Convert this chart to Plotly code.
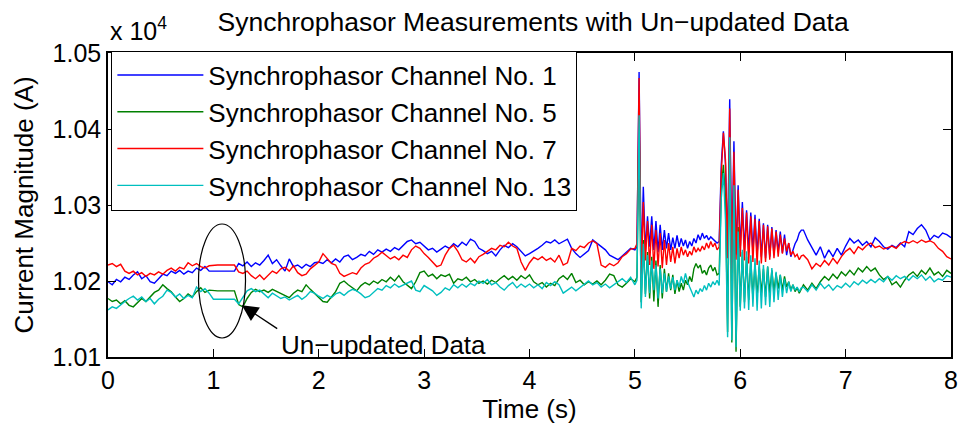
import numpy as np
import plotly.graph_objects as go

# ---------------- data (current magnitude in A) ----------------
# time grid: 0-4.96 s every 0.04 s, 5.00-6.58 s every 0.02 s, 6.60-8.00 s every 0.04 s
time_a = np.arange(125) * 0.04
time_b = 5.0 + np.arange(80) * 0.02
time_c = 6.6 + np.arange(36) * 0.04
time_s = np.round(np.concatenate([time_a, time_b, time_c]), 3)

ch1 = [
    # 0.00 - 0.96
    10199, 10195, 10202, 10199, 10205, 10202, 10208, 10212, 10203, 10207, 10199, 10197, 10203,
    10209, 10207, 10213, 10210, 10214, 10209, 10213, 10211, 10217, 10214, 10219, 10213,
    # 1.00 - 1.96
    10213, 10213, 10213, 10213, 10213, 10213, 10223, 10220, 10225, 10219, 10224, 10221, 10227,
    10234, 10223, 10228, 10220, 10213, 10229, 10219, 10221, 10217, 10222, 10219, 10224,
    # 2.00 - 2.96
    10225, 10223, 10228, 10224, 10229, 10225, 10232, 10234, 10228, 10231, 10235, 10233, 10239,
    10235, 10241, 10238, 10242, 10239, 10244, 10241, 10246, 10252, 10254, 10249, 10251,
    # 3.00 - 3.96
    10246, 10241, 10243, 10238, 10242, 10246, 10243, 10249, 10245, 10251, 10247, 10255, 10252,
    10243, 10240, 10236, 10239, 10233, 10241, 10247, 10244, 10249, 10245, 10239, 10233,
    # 4.00 - 4.96
    10236, 10239, 10243, 10247, 10252, 10250, 10254, 10249, 10252, 10255, 10243, 10236, 10231,
    10235, 10240, 10254, 10250, 10245, 10241, 10234, 10231, 10228, 10233, 10238, 10243,
    # 5.00 - 6.58
    10241, 10245, 10475, 10215, 10324, 10240, 10285, 10245, 10285, 10241,
    10279, 10238, 10274, 10241, 10267, 10243, 10263, 10241, 10257, 10243,
    10260, 10245, 10256, 10246, 10254, 10243, 10252, 10246, 10256, 10250,
    10261, 10254, 10263, 10256, 10260, 10254, 10258, 10255, 10253, 10250,
    10252, 10353, 10397, 10353, 10240, 10439, 10225, 10384, 10235, 10326,
    10243, 10304, 10241, 10293, 10238, 10290, 10239, 10287, 10234, 10282,
    10232, 10276, 10230, 10274, 10232, 10271, 10234, 10267, 10238, 10265,
    10237, 10261, 10234, 10250, 10232, 10241, 10249, 10254, 10263, 10267,
    # 6.60 - 8.00
    10267, 10254, 10243, 10234, 10245, 10230, 10241, 10232, 10243, 10234,
    10246, 10256, 10250, 10254, 10247, 10252, 10245, 10257, 10252, 10245,
    10242, 10247, 10244, 10250, 10245, 10265, 10261, 10269, 10274, 10267,
    10254, 10260, 10257, 10263, 10261, 10257,
]

ch5 = [
    10177, 10173, 10175, 10170, 10174, 10168, 10166, 10172, 10177, 10173, 10179, 10185, 10188,
    10195, 10190, 10186, 10179, 10173, 10177, 10183, 10179, 10186, 10191, 10185, 10188,
    10187, 10187, 10187, 10187, 10187, 10187, 10169, 10166, 10177, 10185, 10189, 10186, 10188,
    10185, 10189, 10186, 10183, 10181, 10178, 10184, 10188, 10186, 10195, 10189, 10184,
    10179, 10173, 10172, 10179, 10186, 10197, 10200, 10195, 10191, 10187, 10194, 10198, 10195,
    10200, 10197, 10202, 10199, 10205, 10200, 10207, 10199, 10195, 10190, 10199, 10211,
    10213, 10206, 10209, 10203, 10208, 10206, 10209, 10197, 10203, 10201, 10205, 10199, 10202,
    10197, 10200, 10196, 10201, 10198, 10203, 10207, 10202, 10206, 10201, 10207, 10203,
    10208, 10199, 10195, 10198, 10192, 10197, 10194, 10203, 10207, 10202, 10210, 10198, 10201,
    10195, 10199, 10196, 10200, 10195, 10201, 10209, 10207, 10195, 10192, 10197, 10203,
    10199, 10205, 10414, 10172, 10254, 10183, 10238, 10177, 10232, 10173,
    10227, 10166, 10221, 10177, 10216, 10186, 10210, 10188, 10208, 10183,
    10201, 10186, 10197, 10188, 10201, 10195, 10206, 10199, 10216, 10223,
    10217, 10221, 10210, 10214, 10208, 10217, 10221, 10213, 10218, 10208,
    10210, 10320, 10353, 10309, 10133, 10386, 10119, 10331, 10107, 10271,
    10166, 10238, 10172, 10232, 10175, 10227, 10177, 10223, 10179, 10219,
    10183, 10216, 10179, 10219, 10184, 10214, 10186, 10210, 10190, 10208,
    10188, 10206, 10192, 10199, 10188, 10195, 10186, 10191, 10184, 10190,
    10195, 10188, 10197, 10190, 10199, 10206, 10201, 10209, 10203, 10212,
    10207, 10214, 10208, 10217, 10212, 10219, 10213, 10217, 10208, 10202,
    10206, 10195, 10199, 10192, 10201, 10208, 10212, 10206, 10214, 10209,
    10217, 10208, 10212, 10206, 10214, 10210,
]

ch7 = [
    10221, 10223, 10219, 10222, 10213, 10210, 10213, 10208, 10211, 10206, 10210, 10208, 10212,
    10209, 10214, 10217, 10213, 10218, 10216, 10224, 10220, 10223, 10219, 10217, 10220,
    10221, 10221, 10221, 10221, 10221, 10221, 10212, 10210, 10213, 10207, 10203, 10208, 10202,
    10207, 10213, 10210, 10216, 10218, 10213, 10220, 10211, 10207, 10209, 10216, 10220,
    10225, 10236, 10230, 10223, 10221, 10210, 10206, 10208, 10211, 10209, 10217, 10222, 10224,
    10230, 10233, 10238, 10234, 10229, 10232, 10228, 10234, 10231, 10241, 10246, 10243,
    10236, 10231, 10225, 10219, 10221, 10234, 10243, 10247, 10239, 10228, 10225, 10230, 10224,
    10232, 10235, 10239, 10243, 10241, 10247, 10245, 10251, 10246, 10243, 10225, 10214,
    10224, 10231, 10228, 10232, 10227, 10230, 10225, 10234, 10221, 10224, 10243, 10240, 10246,
    10244, 10250, 10253, 10249, 10221, 10218, 10223, 10220, 10224, 10232, 10236, 10242,
    10243, 10249, 10467, 10199, 10304, 10227, 10279, 10221, 10274, 10216,
    10267, 10219, 10263, 10217, 10254, 10221, 10250, 10225, 10245, 10223,
    10243, 10230, 10245, 10234, 10241, 10232, 10239, 10234, 10245, 10238,
    10243, 10239, 10246, 10241, 10250, 10243, 10252, 10245, 10250, 10241,
    10245, 10342, 10395, 10359, 10230, 10427, 10215, 10370, 10228, 10320,
    10232, 10296, 10227, 10290, 10223, 10285, 10225, 10282, 10221, 10279,
    10223, 10274, 10225, 10272, 10228, 10269, 10230, 10265, 10232, 10261,
    10236, 10256, 10239, 10250, 10234, 10239, 10232, 10235, 10228, 10233,
    10234, 10228, 10216, 10223, 10219, 10227, 10221, 10230, 10223, 10232,
    10239, 10243, 10236, 10245, 10241, 10247, 10250, 10244, 10246, 10242,
    10244, 10246, 10243, 10249, 10252, 10250, 10253, 10250, 10254, 10251,
    10253, 10250, 10243, 10239, 10232, 10229,
]

ch13 = [
    10162, 10166, 10164, 10169, 10173, 10177, 10180, 10175, 10179, 10173, 10177, 10170, 10176,
    10180, 10188, 10185, 10179, 10183, 10177, 10181, 10178, 10192, 10186, 10190, 10184,
    10176, 10176, 10176, 10176, 10176, 10176, 10170, 10179, 10187, 10190, 10186, 10188, 10183,
    10178, 10184, 10180, 10177, 10179, 10175, 10178, 10181, 10176, 10180, 10186, 10184,
    10180, 10177, 10181, 10178, 10183, 10185, 10181, 10186, 10189, 10187, 10183, 10178, 10180,
    10185, 10190, 10188, 10194, 10191, 10196, 10192, 10195, 10198, 10200, 10188, 10186,
    10194, 10191, 10187, 10181, 10185, 10191, 10188, 10195, 10191, 10196, 10192, 10197, 10194,
    10200, 10197, 10202, 10195, 10198, 10192, 10188, 10194, 10198, 10191, 10196, 10192,
    10196, 10191, 10195, 10190, 10198, 10194, 10199, 10195, 10184, 10188, 10192, 10187, 10191,
    10196, 10200, 10195, 10198, 10192, 10196, 10191, 10195, 10199, 10203, 10198, 10205,
    10195, 10201, 10418, 10164, 10249, 10179, 10234, 10184, 10227, 10188,
    10221, 10177, 10216, 10184, 10210, 10186, 10206, 10190, 10205, 10188,
    10201, 10192, 10206, 10197, 10210, 10199, 10192, 10184, 10179, 10188,
    10183, 10190, 10186, 10194, 10188, 10197, 10192, 10199, 10195, 10201,
    10194, 10309, 10342, 10280, 10126, 10389, 10122, 10326, 10113, 10265,
    10161, 10241, 10164, 10239, 10162, 10234, 10166, 10230, 10161, 10227,
    10164, 10221, 10168, 10219, 10166, 10217, 10172, 10212, 10175, 10208,
    10179, 10203, 10184, 10199, 10186, 10195, 10188, 10192, 10186, 10191,
    10192, 10186, 10195, 10188, 10197, 10190, 10195, 10188, 10194, 10191,
    10197, 10192, 10199, 10195, 10201, 10197, 10202, 10198, 10203, 10199,
    10206, 10201, 10207, 10203, 10206, 10201, 10207, 10203, 10208, 10201,
    10206, 10199, 10203, 10201, 10207, 10205,
]

series_names = ["Synchrophasor Channel No. 1", "Synchrophasor Channel No. 5",
                "Synchrophasor Channel No. 7", "Synchrophasor Channel No. 13"]
series_values = [ch1, ch5, ch7, ch13]
series_colors = ["#0000ff", "#008000", "#ff0000", "#00bfbf"]

y_ticks = [1.01, 1.02, 1.03, 1.04, 1.05]
y_tick_labels = ["1.01", "1.02", "1.03", "1.04", "1.05"]
x_ticks = [0, 1, 2, 3, 4, 5, 6, 7, 8]

for v in series_values:
    assert len(v) == len(time_s), (len(v), len(time_s))

FONT = "Liberation Sans, Arial, Helvetica, sans-serif"

fig = go.Figure()
for name, vals, col in zip(series_names, series_values, series_colors):
    fig.add_trace(go.Scatter(
        x=time_s, y=np.array(vals) / 1e4, mode="lines", name=name,
        line=dict(color=col, width=1.4)))

axis_common = dict(showline=True, linecolor="black", linewidth=1.5, mirror="ticks",
                   ticks="inside", ticklen=8, tickwidth=1, tickcolor="black",
                   showgrid=False, zeroline=False,
                   tickfont=dict(family=FONT, size=25, color="black"))

fig.update_layout(
    width=964, height=430, autosize=False,
    margin=dict(l=108, r=6, t=53, b=73),
    paper_bgcolor="white", plot_bgcolor="white",
    font=dict(family=FONT, size=25, color="black"),
    title=dict(text="Synchrophasor Measurements with Un−updated Data",
               x=0.553, xanchor="center", y=0.949, yanchor="middle",
               font=dict(family=FONT, size=26.5, color="black")),
    xaxis=dict(range=[0, 8], tickvals=x_ticks,
               title=dict(text="Time (s)", standoff=4,
                          font=dict(family=FONT, size=26)), **axis_common),
    yaxis=dict(range=[1.01, 1.05], tickvals=y_ticks, ticktext=y_tick_labels,
               title=dict(text="Current Magnitude (A)", standoff=11,
                          font=dict(family=FONT, size=26)), **axis_common),
    showlegend=True,
    legend=dict(x=0.004, y=1.008, xanchor="left", yanchor="top",
                bgcolor="white", bordercolor="black", borderwidth=1,
                font=dict(family=FONT, size=26, color="black"),
                itemwidth=86, tracegroupgap=0),
)

# exponent label
fig.add_annotation(xref="paper", yref="paper", x=0.0, y=1.0, xanchor="left", yanchor="bottom",
                   yshift=6, text="x 10<sup>4</sup>", showarrow=False,
                   font=dict(family=FONT, size=25, color="black"))

# ellipse around the un-updated data
fig.add_shape(type="circle", xref="x", yref="y", x0=0.859, x1=1.305, y0=1.0125, y1=1.0275,
              line=dict(color="black", width=1.2))

# arrow + label
fig.add_annotation(x=1.27, y=1.0168, ax=1.62, ay=1.0136, xref="x", yref="y", axref="x", ayref="y",
                   text="", showarrow=True, arrowhead=2, arrowsize=2.5, arrowwidth=1.3,
                   arrowcolor="black")
fig.add_annotation(x=1.62, y=1.0116, xref="x", yref="y", xanchor="left", yanchor="middle",
                   text="Un−updated Data", showarrow=False,
                   font=dict(family=FONT, size=26, color="black"))

fig.write_html("out.html")
